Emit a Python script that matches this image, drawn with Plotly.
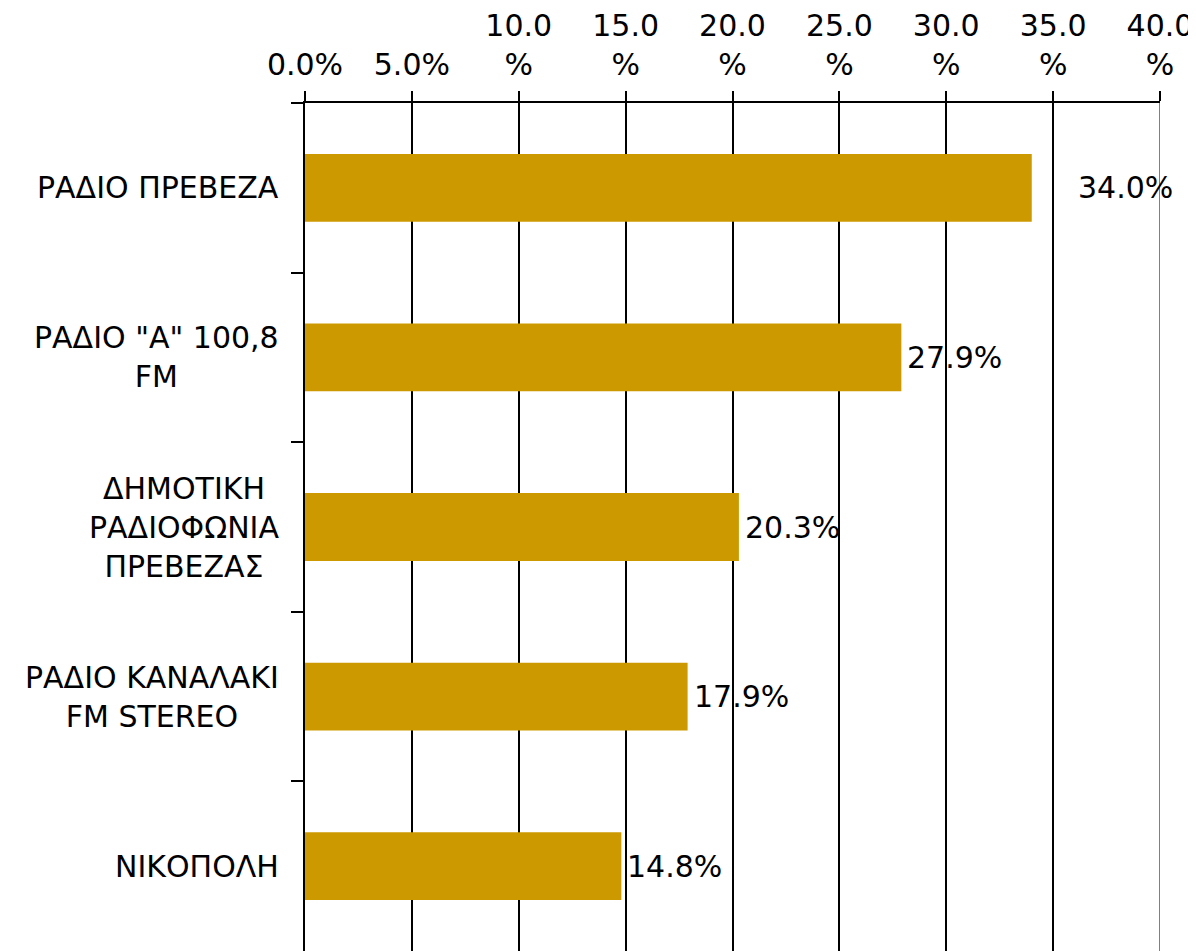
import plotly.graph_objects as go

# 电台收听率数据
stations = [
    'ΡΑΔΙΟ ΠΡΕΒΕΖΑ',
    'ΡΑΔΙΟ "Α" 100,8<br>FM',
    'ΔΗΜΟΤΙΚΗ<br>ΡΑΔΙΟΦΩΝΙΑ<br>ΠΡΕΒΕΖΑΣ',
    'ΡΑΔΙΟ ΚΑΝΑΛΑΚΙ<br>FM STEREO',
    'ΝΙΚΟΠΟΛΗ',
]
shares = [34.0, 27.9, 20.3, 17.9, 14.8]
tick_vals = [0, 5, 10, 15, 20, 25, 30, 35, 40]
tick_text = ['0.0%', '5.0%', '10.0<br>%', '15.0<br>%', '20.0<br>%',
             '25.0<br>%', '30.0<br>%', '35.0<br>%', '40.0<br>%']

FONT = dict(family='DejaVu Sans, Verdana, sans-serif', size=30, color='black')

fig = go.Figure()

fig.add_trace(go.Bar(
    x=shares,
    y=stations,
    orientation='h',
    width=0.4,
    marker=dict(color='#CC9900', line=dict(width=0)),
    hoverinfo='skip',
))

# 数值标签（第一个标签离柱子更远）
label_shift = [44] + [4] * (len(shares) - 1)
for name, val, dx in zip(stations, shares, label_shift):
    fig.add_annotation(
        x=val, y=name, xref='x', yref='y',
        text=f'{val:.1f}%', showarrow=False,
        xanchor='left', yanchor='middle', xshift=dx,
        font=FONT,
    )

# 类别标签（居中对齐的多行文本）
for name in stations:
    fig.add_annotation(
        x=0, y=name, xref='paper', yref='y',
        text=name, showarrow=False, align='center',
        xanchor='right', yanchor='middle', xshift=-24,
        font=FONT,
    )

# 右侧灰色边线
fig.add_shape(type='line', xref='x', yref='paper', x0=40, x1=40, y0=0, y1=1,
              line=dict(color='#808080', width=2), layer='above')

# 页面 body 默认有 8px 边距，所以尺寸减去 8
fig.update_layout(
    width=1188, height=943,
    margin=dict(l=297, r=36, t=95, b=0),
    plot_bgcolor='white',
    paper_bgcolor='white',
    showlegend=False,
    font=FONT,
    xaxis=dict(
        side='top',
        range=[0, 40],
        automargin=False,
        tickvals=tick_vals,
        ticktext=tick_text,
        ticks='outside', ticklen=10, tickwidth=2, tickcolor='black',
        ticklabelstandoff=4,
        showgrid=True, gridcolor='black', gridwidth=2,
        showline=True, linecolor='black', linewidth=2,
        zeroline=False,
        tickfont=FONT,
    ),
    yaxis=dict(
        autorange='reversed',
        automargin=False,
        showticklabels=False,
        ticks='outside', ticklen=12, tickwidth=2, tickcolor='black',
        tickson='boundaries',
        showgrid=False,
        showline=True, linecolor='black', linewidth=2,
    ),
)

fig.write_html("out.html")
